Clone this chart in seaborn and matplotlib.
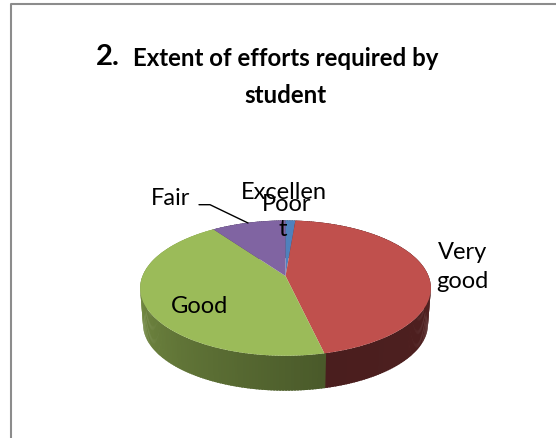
import numpy as np
import seaborn as sns
import matplotlib
matplotlib.use("Agg")
import matplotlib.pyplot as plt
from matplotlib.transforms import Transform
from matplotlib.path import Path

categories = ["Excellent", "Very good", "Good", "Fair", "Poor"]
values = [1.3, 45.1, 43.8, 9.8, 0.0]
top_colors = ["#4F81BD", "#C0504D", "#9BBB59", "#8064A2", "#4BACC6"]
wall_ramps = [["#2d4a6e", "#2d4a6e"], ["#4A1E1E", "#552222"], ["#8FAB52", "#4A5A2A"],
              ["#4a3a5e", "#4a3a5e"], ["#2b6373", "#2b6373"]]

sns.set_theme(style="white")
plt.rcParams["font.family"] = ["Lato", "DejaVu Sans"]

W, H = 556, 439
CX, APEX_Y = 285.5, 277.0
K, A, B = 0.179, 65.5, 143.0
DEPTH, SHRINK = 36.5, 0.98


def project(u, v, scale=1.0, drop=0.0):
    d = 1 + K * v
    return CX + scale * B * u / d, APEX_Y - scale * A * v / d + drop


class Perspective(Transform):
    input_dims = output_dims = 2
    has_inverse = False
    is_affine = False

    def transform_non_affine(self, xy):
        x, y = project(xy[:, 0], xy[:, 1])
        return np.column_stack([x, y])

    def transform_path_non_affine(self, path):
        return Path(self.transform_non_affine(path.vertices), path.codes)


fig = plt.figure(figsize=(W / 100, H / 100), dpi=100, facecolor="white")
ax = fig.add_axes([0, 0, 1, 1])
wedges, _ = ax.pie(values, colors=top_colors, startangle=90, counterclock=False,
                   wedgeprops=dict(linewidth=0))
ax.set_aspect("auto")
ax.set_xlim(0, W)
ax.set_ylim(H, 0)
ax.axis("off")

persp = Perspective()
for w in wedges:
    w.set_transform(persp + ax.transData)
    w.set_zorder(5)

# Extruded side wall: one strip per small step along the front rim
for w, ramp in zip(wedges, wall_ramps):
    t1, t2 = w.theta1, w.theta2
    n = max(int(t2 - t1), 1)
    steps = np.linspace(t1, t2, n + 1)
    shades = sns.blend_palette(ramp, n)
    for a, b, shade in zip(steps[:-1], steps[1:], shades):
        aa = np.radians([a, b + 0.6])
        u, v = np.cos(aa), np.sin(aa)
        xt, yt = project(u, v)
        xb, yb = project(u, v, SHRINK, DEPTH)
        ax.fill([xt[0], xt[1], xb[1], xb[0]], [yt[0], yt[1], yb[1], yb[0]],
                color=shade, lw=0, zorder=2)

# Frame
ax.plot([11, 11, 556], [439, 4.5, 4.5], color="#8c8c8c", lw=1.5, zorder=1, clip_on=False)

# Title
ax.text(96, 57, "2.", fontsize=21, fontweight="bold", ha="left", va="center", color="black")
ax.text(285.5, 59, "Extent of efforts required by", fontsize=17.3, fontweight="bold",
        ha="center", va="center", color="black")
ax.text(285.5, 96, "student", fontsize=17.3, fontweight="bold", ha="center", va="center",
        color="black")

# Labels
label_size = 17
ax.plot([199, 210, 248], [205.7, 205.7, 224], color="black", lw=1, zorder=6)
ax.text(171, 199, "Fair", fontsize=label_size, ha="center", va="center", color="black", zorder=7)
ax.text(284, 193, "Excellen", fontsize=label_size, ha="center", va="center", color="black", zorder=7)
ax.text(283, 230, "t", fontsize=label_size, ha="center", va="center", color="black", zorder=7)
ax.text(287, 205, "Poor", fontsize=label_size, ha="center", va="center", color="black", zorder=7)
ax.text(462.5, 267, "Very\ngood", fontsize=label_size, ha="center", va="center", color="black",
        linespacing=1.5, zorder=7)
ax.text(199, 307, "Good", fontsize=label_size, ha="center", va="center", color="black", zorder=7)

fig.savefig("out.png", dpi=100, facecolor="white")
